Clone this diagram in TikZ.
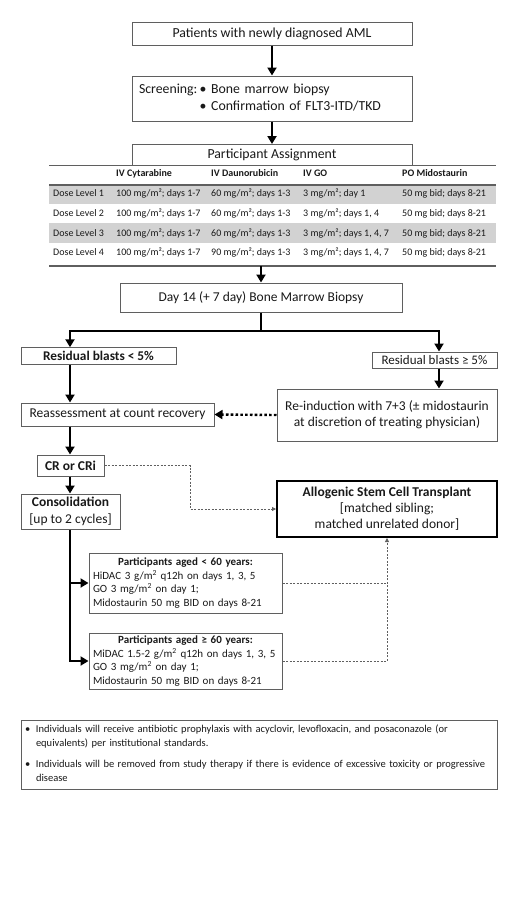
\documentclass[tikz,border=0pt]{standalone}
\usepackage{fontspec}
\setmainfont{Carlito}
\usetikzlibrary{arrows.meta}
\definecolor{bcol}{RGB}{95,95,95}
\definecolor{rowgray}{RGB}{210,210,210}
\definecolor{txt}{RGB}{25,25,25}
\tikzset{
  box/.style={draw=bcol, line width=1pt, fill=white, inner sep=0pt, text=txt,
    font=\fontsize{13.5}{16}\selectfont, align=center},
  arr/.style={line width=2.4pt, -{Triangle[length=8pt,width=9pt]}},
  thk/.style={line width=2.4pt},
  dotarr/.style={line width=2.4pt, dash pattern=on 2.6pt off 2.2pt, -{Triangle[length=8pt,width=9pt]}},
  dsh/.style={draw=bcol, line width=0.8pt, dash pattern=on 2pt off 1.5pt},
  dsharr/.style={dsh, -{Triangle[length=4pt,width=4pt]}},
  cell/.style={anchor=base west, inner sep=0pt, text=txt, font=\fontsize{10}{12}\selectfont},
  hcell/.style={cell, font=\fontsize{10}{12}\selectfont\bfseries},
}
\newcommand\tabrow[7]{%
  \node[cell] (#1a) at (53,#2) {#3};
  \node[cell] (#1b) at (116,#2) {#4};
  \node[cell] (#1c) at (211,#2) {#5};
  \node[cell] (#1d) at (303,#2) {#6};
  \node[cell] (#1e) at (402,#2) {#7};}
\begin{document}
\begin{tikzpicture}[x=1pt,y=-1pt]
\useasboundingbox (0,0) rectangle (520,924);
\fill[white] (0,0) rectangle (520,924);

% top boxes
\node[box, minimum width=280pt, minimum height=23pt, font=\fontsize{13.8}{16}\selectfont] (n1) at (272,33.5) {Patients with newly diagnosed AML};
\node[box, minimum width=280pt, minimum height=45pt, text width=266pt, align=left, font=\fontsize{13.8}{17}\selectfont] (n2) at (272,98.5)
  {\begin{tabular}{@{}l@{\,}l@{}}Screening: & • Bone marrow biopsy\\ & • Confirmation of FLT3-ITD/TKD\end{tabular}};
\draw[arr] (n1.south) -- (n2.north);

% table
\fill[rowgray] (49,184.7) rectangle (496,203.5);
\fill[rowgray] (49,223) rectangle (496,242.5);
\draw[bcol, line width=0.8pt] (49,165) -- (496,165);
\draw[bcol, line width=1.6pt] (49,184.7) -- (496,184.7);
\draw[bcol, line width=1.3pt] (49,266) -- (496,266);
\node[box, minimum width=280pt, minimum height=20.5pt, font=\fontsize{13.8}{16}\selectfont] (pa) at (272,154.75) {Participant Assignment};
\draw[arr] (n2.south) -- (pa.north);
\node[hcell] (h1) at (116,176.5) {IV Cytarabine};
\node[hcell] (h2) at (211,176.5) {IV Daunorubicin};
\node[hcell] (h3) at (303,176.5) {IV GO};
\node[hcell] (h4) at (402,176.5) {PO Midostaurin};
\tabrow{ra}{196.8}{Dose Level 1}{100 mg/m²; days 1-7}{60 mg/m²; days 1-3}{3 mg/m²; day 1}{50 mg bid; days 8-21}
\tabrow{rb}{216.5}{Dose Level 2}{100 mg/m²; days 1-7}{60 mg/m²; days 1-3}{3 mg/m²; days 1, 4}{50 mg bid; days 8-21}
\tabrow{rc}{236.3}{Dose Level 3}{100 mg/m²; days 1-7}{60 mg/m²; days 1-3}{3 mg/m²; days 1, 4, 7}{50 mg bid; days 8-21}
\tabrow{rd}{255.8}{Dose Level 4}{100 mg/m²; days 1-7}{90 mg/m²; days 1-3}{3 mg/m²; days 1, 4, 7}{50 mg bid; days 8-21}

\coordinate (tb) at (261,266);
\node[box, minimum width=282pt, minimum height=29pt] (d14) at (261,297.5) {Day 14 (+ 7 day) Bone Marrow Biopsy};
\draw[arr] (tb) -- (d14.north);

\coordinate (sp) at (261,331);
\coordinate (lx) at (70,331);
\coordinate (rx) at (439,331);
\node[box, minimum width=155pt, minimum height=16.5pt, font=\fontsize{13.3}{16}\selectfont\bfseries] (res1) at (98.5,356) {Residual blasts < 5\%};
\node[box, minimum width=125pt, minimum height=16pt, font=\fontsize{13}{16}\selectfont] (res2) at (434.5,360) {Residual blasts ≥ 5\%};
\draw[thk] (d14.south) -- (sp);
\draw[arr] (sp) -| (lx |- res1.north);
\draw[arr] (sp) -| (rx |- res2.north);

\node[box, minimum width=220pt, minimum height=52pt] (reind) at (387,415) {Re-induction with 7+3 (± midostaurin\\ at discretion of treating physician)};
\node[box, minimum width=193pt, minimum height=23pt] (reass) at (117.5,414.5) {Reassessment at count recovery};
\draw[arr] (rx |- res2.south) -- (rx |- reind.north);
\draw[arr] (lx |- res1.south) -- (lx |- reass.north);
\draw[dotarr] (reind.west) -- (reass.east);

\node[box, minimum width=67pt, minimum height=21pt, font=\fontsize{13.5}{16}\selectfont\bfseries] (cr) at (70.5,465.5) {CR or CRi};
\node[box, minimum width=99pt, minimum height=35pt, font=\fontsize{13.5}{17}\selectfont] (consol) at (70.5,511.5) {\textbf{Consolidation}\\ {[}up to 2 cycles{]}};
\draw[arr] (lx |- reass.south) -- (lx |- cr.north);
\draw[arr] (lx |- cr.south) -- (lx |- consol.north);

\node[box, draw=black, line width=2pt, minimum width=220pt, minimum height=56pt] (allo) at (387,509) {\textbf{Allogenic Stem Cell Transplant}\\ {[}matched sibling;\\ matched unrelated donor{]}};
\coordinate (mx) at (190,465.5);
\draw[dsharr] (cr.east) -- (cr.east -| mx) -- (allo.west -| mx) -- (allo.west);

\node[box, minimum width=193pt, minimum height=60pt, text width=185pt, align=left, font=\fontsize{11}{13.6}\selectfont] (ba) at (185.5,583)
  {\makebox[185pt]{\bfseries Participants aged < 60 years:}\\ HiDAC 3 g/m\textsuperscript{2} q12h on days 1, 3, 5\\ GO 3 mg/m\textsuperscript{2} on day 1;\\ Midostaurin 50 mg BID on days 8-21};
\node[box, minimum width=193pt, minimum height=56pt, text width=185pt, align=left, font=\fontsize{11}{13.6}\selectfont] (bb) at (185.5,661)
  {\makebox[185pt]{\bfseries Participants aged ≥ 60 years:}\\ MiDAC 1.5-2 g/m\textsuperscript{2} q12h on days 1, 3, 5\\ GO 3 mg/m\textsuperscript{2} on day 1;\\ Midostaurin 50 mg BID on days 8-21};
\draw[arr] (lx |- consol.south) |- (bb.west);
\draw[arr] (lx |- ba.west) -- (ba.west);
\draw[dsh] (ba.east) -- (ba.east -| allo.south);
\draw[dsharr] (bb.east) -| (allo.south);

\node[box, minimum width=476pt, minimum height=69pt, text width=468pt, align=left, font=\fontsize{10.5}{14}\selectfont] (notes) at (259,754.5)
  {\begin{tabular}{@{}p{11pt}@{}l@{}}
  • & Individuals will receive antibiotic prophylaxis with acyclovir, levofloxacin, and posaconazole (or\\
    & equivalents) per institutional standards.\\[7pt]
  • & Individuals will be removed from study therapy if there is evidence of excessive toxicity or progressive\\
    & disease
  \end{tabular}};
\end{tikzpicture}
\end{document}
